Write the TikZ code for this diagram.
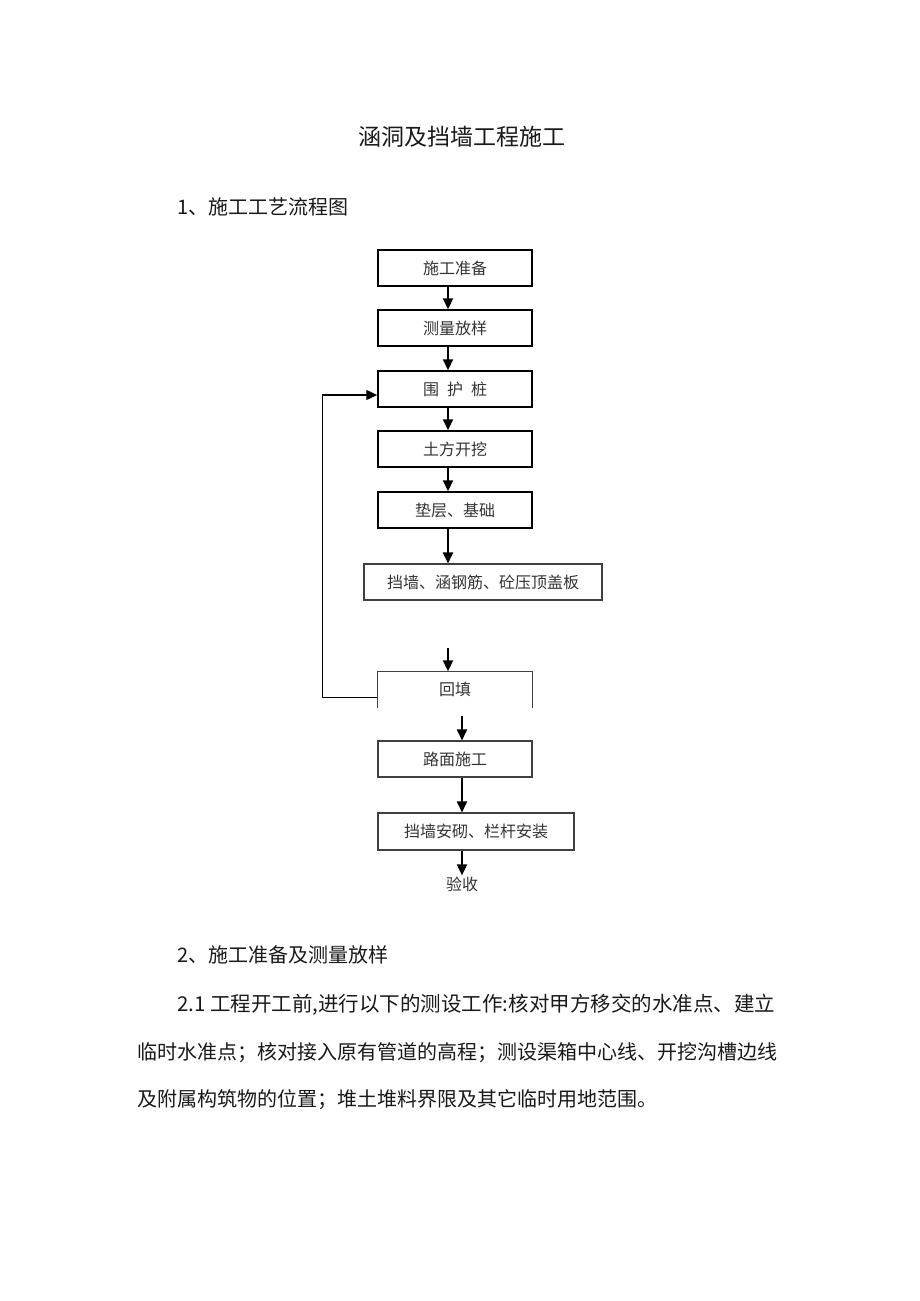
\documentclass[tikz,border=0pt]{standalone}
\usepackage{fontspec}
\setmainfont{Noto Sans CJK SC}
\usetikzlibrary{arrows.meta}

\begin{document}
\begin{tikzpicture}[x=1pt,y=-1pt]
\tikzset{stage/.style={draw, line width=1.5pt, minimum width=154pt, minimum height=36pt, inner sep=0pt, text=black!80, font=\fontsize{16}{16}\selectfont}}
\tikzset{stagelight/.style={stage, line width=1.1pt, draw=black!75}}
\tikzset{prose/.style={anchor=west, inner sep=0pt, text=black!90, font=\fontsize{20}{20}\selectfont}}
\tikzstyle{pointer} = [line width=2.2pt, -{Triangle[length=11pt,width=10pt]}]
\useasboundingbox (0,0) rectangle (920,1301);

\node[inner sep=0pt, text=black!90, font=\fontsize{23}{23}\selectfont] (title) at (462,137) {涵洞及挡墙工程施工};
\node[prose] (head1) at (177,207) {1、施工工艺流程图};

\node[stage] (prep) at (455,268) {施工准备};
\node[stage] (survey) at (455,328) {测量放样};
\node[stage] (pile) at (455,389) {围\hspace{8pt}护\hspace{8pt}桩};
\node[stage] (dig) at (455,449) {土方开挖};
\node[stage] (base) at (455,510) {垫层、基础};
\node[stagelight, minimum width=238pt] (wall) at (483,582) {挡墙、涵钢筋、砼压顶盖板};
\node[stage, draw=none, minimum height=35pt] (fill) at (455,689.5) {回填};
\draw[line width=1.1pt, black!75] (fill.south west) -- (fill.north west) -- (fill.north east) -- (fill.south east);
\node[stagelight] (road) at (455,759) {路面施工};
\node[stagelight, minimum width=196pt, minimum height=37pt] (rail) at (476,831.5) {挡墙安砌、栏杆安装};
\node[inner sep=0pt, text=black!80, font=\fontsize{16}{16}\selectfont] (accept) at (462,884) {验收};

\draw[pointer] ([xshift=-7pt]prep.south) -- ([xshift=-7pt]survey.north);
\draw[pointer] ([xshift=-7pt]survey.south) -- ([xshift=-7pt]pile.north);
\draw[pointer] ([xshift=-7pt]pile.south) -- ([xshift=-7pt]dig.north);
\draw[pointer] ([xshift=-7pt]dig.south) -- ([xshift=-7pt]base.north);
\draw[pointer] ([xshift=-7pt]base.south) -- ([xshift=-7pt]base.south |- wall.north);
\coordinate (gap) at (448,648);
\draw[pointer] (gap) -- (gap |- fill.north);
\draw[pointer, line width=1.8pt, shorten <=8pt] ([xshift=7pt]fill.south) -- ([xshift=7pt]road.north);
\draw[pointer, line width=1.8pt] ([xshift=7pt]road.south) -- ([xshift=7pt]road.south |- rail.north);
\draw[pointer, line width=1.8pt] (rail.south -| accept) -- ([yshift=1pt]accept.north);
\draw[pointer, line width=1.4pt] ([yshift=-8pt]fill.west) -- ++(-55,0) |- ([yshift=-6pt]pile.west);

\node[prose] (head2) at (177,955) {2、施工准备及测量放样};
\node[prose, font=\fontsize{20.5}{20.5}\selectfont] (para1) at (177,1005) {2.1 工程开工前,进行以下的测设工作:核对甲方移交的水准点、建立};
\node[prose] (para2) at (137,1053) {临时水准点；核对接入原有管道的高程；测设渠箱中心线、开挖沟槽边线};
\node[prose] (para3) at (137,1100) {及附属构筑物的位置；堆土堆料界限及其它临时用地范围。};
\end{tikzpicture}
\end{document}
